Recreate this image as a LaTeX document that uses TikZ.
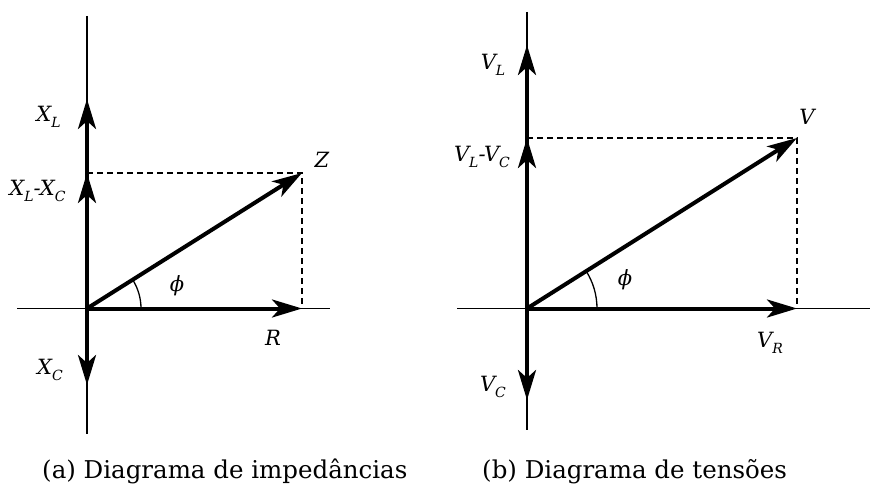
\documentclass[tikz,border=0pt]{standalone}
\usepackage{fontspec}
\setmainfont{DejaVu Serif}
\usetikzlibrary{arrows.meta}
\newcommand{\phs}[2]{#1\raisebox{-0.28em}{\fontsize{14}{16}\selectfont#2}}
\tikzset{
  axis/.style={line width=1.3pt},
  phasor/.style={line width=4pt,-{Stealth[length=30pt,width=18pt,inset=8pt]}},
  proj/.style={line width=1.3pt,dash pattern=on 6pt off 4pt},
  lbl/.style={inner sep=0pt,font=\fontsize{21}{24}\selectfont\itshape},
  caption/.style={font=\fontsize{24.5}{29}\selectfont,inner sep=0pt,anchor=base west}
}
\begin{document}
\begin{tikzpicture}[x=1pt,y=1pt]
  \useasboundingbox (0,0) rectangle (872,483);
  % (a) impedancias
  \coordinate (O1) at (87,174.5); \coordinate (XL) at (87,384);
  \coordinate (XLC) at (87,310); \coordinate (XC) at (87,98);
  \coordinate (Z) at (302,310); \coordinate (R) at (302,174.5);
  \coordinate (ya1) at (87,467); \coordinate (yb1) at (87,49);
  \coordinate (xa1) at (17,174.5); \coordinate (xb1) at (330,174.5);
  \draw[axis] (ya1)--(yb1); \draw[axis] (xa1)--(xb1);
  \draw[proj] (XLC)--(Z)--(R);
  \draw[axis] (O1) ++(54,0) arc[start angle=0,end angle=32.3,radius=54];
  \draw[phasor] (O1)--(XL); \draw[phasor] (O1)--(XLC);
  \draw[phasor] (O1)--(XC); \draw[phasor] (O1)--(R);
  \draw[phasor] (O1)--(Z);
  \node[lbl] (lXL) at (48.5,366) {\phs{X}{L}};
  \node[lbl] (lXLC) at (37.5,292) {\phs{X}{L}-\phs{X}{C}};
  \node[lbl] (lXC) at (50,113) {\phs{X}{C}};
  \node[lbl] (lZ) at (322,323) {Z};
  \node[lbl] (lR) at (273,145) {R};
  \node[lbl] (lphi1) at (177,197) {ϕ};
  \node[caption] (capa) at (42,5) {(a) Diagrama de impedâncias};
  % (b) tensoes
  \coordinate (O2) at (527,174.5); \coordinate (VL) at (527,438);
  \coordinate (VLC) at (527,345); \coordinate (VC) at (527,83);
  \coordinate (V) at (797,345); \coordinate (VR) at (797,174.5);
  \coordinate (ya2) at (527,471); \coordinate (yb2) at (527,53);
  \coordinate (xa2) at (457,174.5); \coordinate (xb2) at (870,174.5);
  \draw[axis] (ya2)--(yb2); \draw[axis] (xa2)--(xb2);
  \draw[proj] (VLC)--(V)--(VR);
  \draw[axis] (O2) ++(70,0) arc[start angle=0,end angle=32.2,radius=70];
  \draw[phasor] (O2)--(VL); \draw[phasor] (O2)--(VLC);
  \draw[phasor] (O2)--(VC); \draw[phasor] (O2)--(VR);
  \draw[phasor] (O2)--(V);
  \node[lbl] (lVL) at (493,418) {\phs{V}{L}};
  \node[lbl] (lVLC) at (482,326) {\phs{V}{L}-\phs{V}{C}};
  \node[lbl] (lVC) at (493,96) {\phs{V}{C}};
  \node[lbl] (lV) at (807,366) {V};
  \node[lbl] (lVR) at (770,140) {\phs{V}{R}};
  \node[lbl] (lphi2) at (625,203) {ϕ};
  \node[caption] (capb) at (482,5) {(b) Diagrama de tensões};
\end{tikzpicture}
\end{document}
